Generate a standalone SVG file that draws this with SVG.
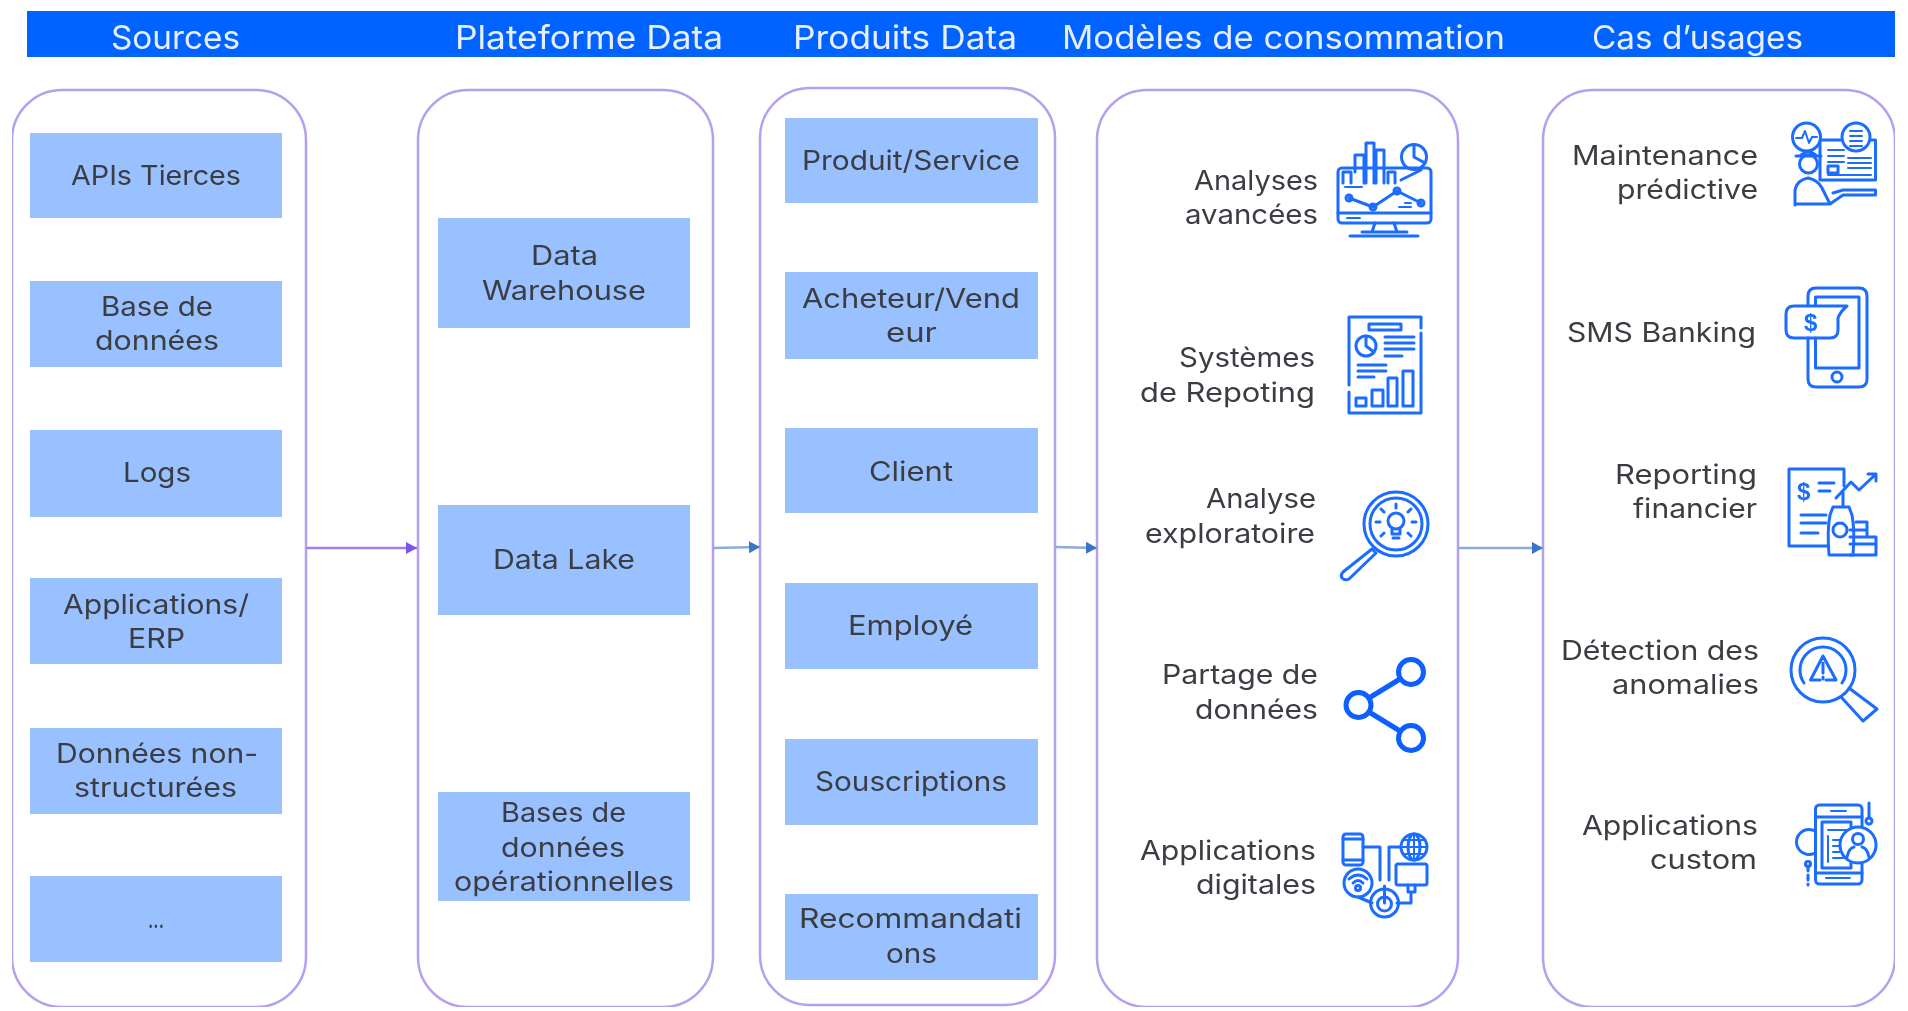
<svg xmlns="http://www.w3.org/2000/svg" width="1908" height="1011" viewBox="0 0 1908 1011">
<defs>
<style>
text{font-family:Inter,"Liberation Sans",sans-serif;font-size:27px;fill:#3a3d42}
.h{font-size:33px;fill:#e6efff}
.panel{fill:#fff;stroke:#b79ff0;stroke-width:2.5}
.box{fill:#99c1ff}
.i{fill:none;stroke:#1a6dff;stroke-width:3;stroke-linejoin:round;stroke-linecap:round}
.t{stroke-width:2}
.d{font-family:"Liberation Sans",sans-serif;font-weight:bold;fill:#1a6dff;font-size:24px}
.c1{stroke:#a77bf3;stroke-width:2.4;fill:none}
.c2{stroke:#8fabd8;stroke-width:2.4;fill:none}
</style>
<marker id="a1" markerUnits="userSpaceOnUse" markerWidth="12" markerHeight="14" refX="11" refY="7" orient="auto"><path d="M0 1L11 7L0 13Z" fill="#7d52ee"/></marker>
<marker id="a2" markerUnits="userSpaceOnUse" markerWidth="12" markerHeight="14" refX="11" refY="7" orient="auto"><path d="M0 1L11 7L0 13Z" fill="#3a74c8"/></marker>
<filter id="soft" x="0" y="0" width="100%" height="100%"><feGaussianBlur stdDeviation="0.7"/></filter>
</defs>
<rect width="1908" height="1011" fill="#fff"/>
<g filter="url(#soft)">
<g id="header">
<rect x="27" y="11" width="1868" height="46" fill="#0062ff"/>
<text class="h" x="111" y="49" textLength="129" lengthAdjust="spacingAndGlyphs">Sources</text>
<text class="h" x="455" y="49" textLength="268" lengthAdjust="spacingAndGlyphs">Plateforme Data</text>
<text class="h" x="793" y="49" textLength="224" lengthAdjust="spacingAndGlyphs">Produits Data</text>
<text class="h" x="1062" y="49" textLength="443" lengthAdjust="spacingAndGlyphs">Modèles de consommation</text>
<text class="h" x="1592" y="49" textLength="211" lengthAdjust="spacingAndGlyphs">Cas d’usages</text>
</g>
<g id="panel-sources"><rect class="panel" x="12" y="90" width="294" height="917" rx="50"/></g>
<g id="panel-plateforme"><rect class="panel" x="418" y="90" width="295" height="917" rx="50"/></g>
<g id="panel-produits"><rect class="panel" x="760" y="88" width="295" height="917" rx="50"/></g>
<g id="panel-modeles"><rect class="panel" x="1097" y="90" width="361" height="917" rx="50"/></g>
<g id="panel-cas"><rect class="panel" x="1543" y="90" width="352" height="917" rx="50"/></g>
<g id="connectors">
<path class="c1" d="M306 548H417" marker-end="url(#a1)"/>
<path class="c2" d="M713 548L760 547" marker-end="url(#a2)"/>
<path class="c2" d="M1055 547L1097 548" marker-end="url(#a2)"/>
<path class="c2" d="M1458 548H1543" marker-end="url(#a2)"/>
</g>
<g id="s1"><rect class="box" x="30" y="133" width="252" height="85"/><text x="71" y="185" textLength="170" lengthAdjust="spacingAndGlyphs">APIs Tierces</text></g>
<g id="s2"><rect class="box" x="30" y="281" width="252" height="86"/><text x="101" y="316" textLength="112" lengthAdjust="spacingAndGlyphs">Base de</text><text x="95" y="350" textLength="124" lengthAdjust="spacingAndGlyphs">données</text></g>
<g id="s3"><rect class="box" x="30" y="430" width="252" height="87"/><text x="123" y="482" textLength="68" lengthAdjust="spacingAndGlyphs">Logs</text></g>
<g id="s4"><rect class="box" x="30" y="578" width="252" height="86"/><text x="63" y="614" textLength="186" lengthAdjust="spacingAndGlyphs">Applications/</text><text x="128" y="648" textLength="57" lengthAdjust="spacingAndGlyphs">ERP</text></g>
<g id="s5"><rect class="box" x="30" y="728" width="252" height="86"/><text x="56" y="763" textLength="202" lengthAdjust="spacingAndGlyphs">Données non-</text><text x="74" y="797" textLength="163" lengthAdjust="spacingAndGlyphs">structurées</text></g>
<g id="s6"><rect class="box" x="30" y="876" width="252" height="86"/><text x="148" y="928" textLength="16" lengthAdjust="spacingAndGlyphs">...</text></g>
<g id="p1"><rect class="box" x="438" y="218" width="252" height="110"/><text x="531" y="265" textLength="67" lengthAdjust="spacingAndGlyphs">Data</text><text x="482" y="300" textLength="164" lengthAdjust="spacingAndGlyphs">Warehouse</text></g>
<g id="p2"><rect class="box" x="438" y="505" width="252" height="110"/><text x="493" y="569" textLength="142" lengthAdjust="spacingAndGlyphs">Data Lake</text></g>
<g id="p3"><rect class="box" x="438" y="792" width="252" height="109"/><text x="501" y="822" textLength="125" lengthAdjust="spacingAndGlyphs">Bases de</text><text x="501" y="857" textLength="124" lengthAdjust="spacingAndGlyphs">données</text><text x="454" y="891" textLength="220" lengthAdjust="spacingAndGlyphs">opérationnelles</text></g>
<g id="d1"><rect class="box" x="785" y="118" width="253" height="85"/><text x="802" y="170" textLength="218" lengthAdjust="spacingAndGlyphs">Produit/Service</text></g>
<g id="d2"><rect class="box" x="785" y="272" width="253" height="87"/><text x="802" y="308" textLength="218" lengthAdjust="spacingAndGlyphs">Acheteur/Vend</text><text x="886" y="342" textLength="51" lengthAdjust="spacingAndGlyphs">eur</text></g>
<g id="d3"><rect class="box" x="785" y="428" width="253" height="85"/><text x="869" y="481" textLength="84" lengthAdjust="spacingAndGlyphs">Client</text></g>
<g id="d4"><rect class="box" x="785" y="583" width="253" height="86"/><text x="848" y="635" textLength="125" lengthAdjust="spacingAndGlyphs">Employé</text></g>
<g id="d5"><rect class="box" x="785" y="739" width="253" height="86"/><text x="815" y="791" textLength="192" lengthAdjust="spacingAndGlyphs">Souscriptions</text></g>
<g id="d6"><rect class="box" x="785" y="894" width="253" height="86"/><text x="799" y="928" textLength="223" lengthAdjust="spacingAndGlyphs">Recommandati</text><text x="886" y="963" textLength="51" lengthAdjust="spacingAndGlyphs">ons</text></g>

<g id="m1"><text x="1194" y="190" textLength="124" lengthAdjust="spacingAndGlyphs">Analyses</text><text x="1185" y="224" textLength="133" lengthAdjust="spacingAndGlyphs">avancées</text>
<g class="i"><rect x="1338" y="168" width="93" height="55" rx="4"/><path d="M1338 213H1431M1375 223L1372 232M1394 223L1397 232M1362 232H1407M1350 236H1418M1343 183V172H1351V183M1355 172V155H1364V183M1366 183V143H1374V183M1376 183V150H1384V183M1388 183V172H1395V183"/><circle cx="1414" cy="157" r="12.500"/><path d="M1414 157V144.500M1414 157L1425 163M1401 180L1421 170"/><path d="M1349 198L1373 207L1397 191L1421 203"/><circle cx="1349" cy="198" r="3"/><circle cx="1373" cy="207" r="3"/><circle cx="1397" cy="191" r="3"/><circle cx="1421" cy="203" r="3"/><path class="t" d="M1345 187H1362M1347 218H1360M1399 207H1411M1405 203H1411"/></g></g>

<g id="m2"><text x="1179" y="367" textLength="136" lengthAdjust="spacingAndGlyphs">Systèmes</text><text x="1140" y="402" textLength="175" lengthAdjust="spacingAndGlyphs">de Repoting</text>
<g class="i"><path d="M1421 328V317H1349V385M1349 392V413H1421V333"/><rect x="1369" y="324" width="32" height="6"/><circle cx="1366" cy="346" r="10"/><path d="M1366 346V336M1366 346L1374 352M1385 337H1414M1385 343H1414M1385 349H1414M1385 356H1402M1358 365H1386M1358 371H1386M1358 377H1374"/><rect x="1356" y="398" width="10" height="8"/><rect x="1372" y="390" width="11" height="16"/><rect x="1388" y="378" width="9" height="28"/><rect x="1403" y="371" width="10" height="35"/></g></g>

<g id="m3"><text x="1206" y="508" textLength="110" lengthAdjust="spacingAndGlyphs">Analyse</text><text x="1145" y="543" textLength="170" lengthAdjust="spacingAndGlyphs">exploratoire</text>
<g class="i"><circle cx="1396" cy="524" r="32"/><circle cx="1396" cy="524" r="26"/><circle cx="1396" cy="521" r="8"/><path d="M1392 529V534H1400V529M1393 538H1399M1396 504V508M1381 509L1384 512M1411 509L1408 512M1376 522H1380M1412 522H1416M1381 536L1384 533M1411 536L1408 533"/><path d="M1372 549L1376 553L1349 579Q1345 581 1342 578Q1340 575 1343 572Z"/></g></g>

<g id="m4"><text x="1162" y="684" textLength="156" lengthAdjust="spacingAndGlyphs">Partage de</text><text x="1195" y="719" textLength="123" lengthAdjust="spacingAndGlyphs">données</text>
<g class="i" style="stroke:#0a5fff;stroke-width:5"><circle cx="1411" cy="672" r="12.500"/><circle cx="1358.500" cy="705" r="12.500"/><circle cx="1411" cy="738" r="12.500"/><path d="M1369 698L1400 679M1369 712L1400 731"/></g></g>

<g id="m5"><text x="1140" y="860" textLength="176" lengthAdjust="spacingAndGlyphs">Applications</text><text x="1196" y="894" textLength="120" lengthAdjust="spacingAndGlyphs">digitales</text>
<g class="i"><rect x="1343" y="834" width="20" height="31" rx="3"/><path d="M1343 839H1363M1343 860H1363M1363 847H1380V880M1400 847H1389V880"/><circle cx="1414" cy="847" r="13"/><ellipse cx="1414" cy="847" rx="6" ry="13"/><path class="t" d="M1401 847H1427M1403 840H1425M1403 854H1425M1414 834V860"/><rect x="1396" y="864" width="31" height="21" rx="2"/><path d="M1408 885V892H1415V885M1358 897L1372 903M1411 892V903H1397"/><circle cx="1358" cy="883" r="14"/><path d="M1349 879Q1358 871 1367 879M1353 883Q1358 878 1363 883"/><circle cx="1358" cy="888" r="2.500"/><circle cx="1384.500" cy="903" r="14"/><circle cx="1384.500" cy="904" r="7"/><path d="M1384.500 886V903"/></g></g>

<g id="u1"><text x="1572" y="165" textLength="186" lengthAdjust="spacingAndGlyphs">Maintenance</text><text x="1617" y="199" textLength="141" lengthAdjust="spacingAndGlyphs">prédictive</text>
<g class="i" transform="translate(-2 0)"><path d="M1822 180V140H1877.500V180Z"/><circle cx="1808.500" cy="137" r="14" fill="#fff"/><path class="t" d="M1798 138H1804L1807 131L1811 143L1814 137H1819"/><circle cx="1858" cy="137" r="14" fill="#fff"/><path class="t" d="M1852 131H1864M1852 136H1864M1852 141H1864M1852 146H1864M1830 150H1846M1830 156H1846M1830 162H1846M1850 158H1873M1850 163H1873M1850 168H1873M1830 175H1873"/><rect x="1830" y="166" width="10" height="7"/><circle cx="1810.500" cy="164" r="9" fill="#fff"/><path d="M1798 156H1823M1802 156Q1810 148 1819 156"/><path d="M1797 205V190Q1799 180 1810 178Q1820 180 1824 188L1832 204H1797ZM1832 204L1845 195H1877.500V190H1845L1835 193"/></g></g>

<g id="u2"><text x="1567" y="342" textLength="189" lengthAdjust="spacingAndGlyphs">SMS Banking</text>
<g class="i" transform="translate(-2 0)"><path d="M1810 305V296Q1810 288 1818 288H1861Q1869 288 1869 296V379Q1869 387 1861 387H1818Q1810 387 1810 379V338"/><path d="M1817.500 305V297H1861V368H1817.500V338"/><circle cx="1839" cy="377" r="5"/><path d="M1796 306H1849Q1842 312 1840 318V330Q1840 338 1832 338H1796Q1788 338 1788 330V314Q1788 306 1796 306Z"/></g><text class="d" x="1804" y="331">$</text></g>

<g id="u3"><text x="1615" y="484" textLength="142" lengthAdjust="spacingAndGlyphs">Reporting</text><text x="1633" y="518" textLength="124" lengthAdjust="spacingAndGlyphs">financier</text>
<g class="i" transform="translate(-2 0)"><path d="M1846 486V469H1791V546H1830M1821 483H1836M1821 491H1832M1803 515H1828M1803 523H1828M1803 533H1820"/><path d="M1838 498L1853 482L1861 490L1878 474M1870 474H1878V481M1845 492V505"/><path d="M1835 507H1851L1854 515Q1857 530 1855 555H1831Q1829 530 1832 515Z"/><circle cx="1842" cy="530" r="7"/><path d="M1852 530H1869V537H1852M1852 537H1878V544H1852M1852 544H1878V555H1852M1858 522H1869V530"/></g><text class="d" x="1797" y="500">$</text></g>

<g id="u4"><text x="1561" y="660" textLength="198" lengthAdjust="spacingAndGlyphs">Détection des</text><text x="1612" y="694" textLength="147" lengthAdjust="spacingAndGlyphs">anomalies</text>
<g class="i" transform="translate(-2 1)"><circle cx="1825" cy="669" r="32"/><path d="M1806 682A23 23 0 1 1 1844 682"/><path d="M1825 655L1812.500 679H1822M1825 655L1838 679H1828M1825 662V672M1825 676V678"/><path d="M1851 687L1879 708L1865 720L1844 697"/></g></g>

<g id="u5"><text x="1582" y="835" textLength="176" lengthAdjust="spacingAndGlyphs">Applications</text><text x="1650" y="869" textLength="107" lengthAdjust="spacingAndGlyphs">custom</text>
<g class="i" transform="translate(-2 0)"><circle cx="1811" cy="842" r="12.500" stroke-dasharray="6 1"/><rect x="1817.500" y="805" width="46.500" height="79" rx="4" fill="#fff"/><path d="M1817.500 817H1864M1817.500 873H1864"/><path class="t" d="M1833 811H1848M1828 878H1852"/><path d="M1824 822H1853V868H1824Z"/><path class="t" d="M1830 830H1850M1830 836V862M1835 840H1846M1835 846H1846M1835 852H1846M1835 858H1846"/><circle cx="1860" cy="845" r="18" fill="#fff"/><circle cx="1860" cy="839" r="5.500"/><path d="M1849 857Q1851 848 1856 847M1871 857Q1869 848 1864 847"/><path d="M1871 803V818"/><circle cx="1871" cy="821" r="3"/><path d="M1810 866V885" stroke-dasharray="5 4"/><circle cx="1810" cy="864" r="2.500"/></g></g>
</g>
</svg>
